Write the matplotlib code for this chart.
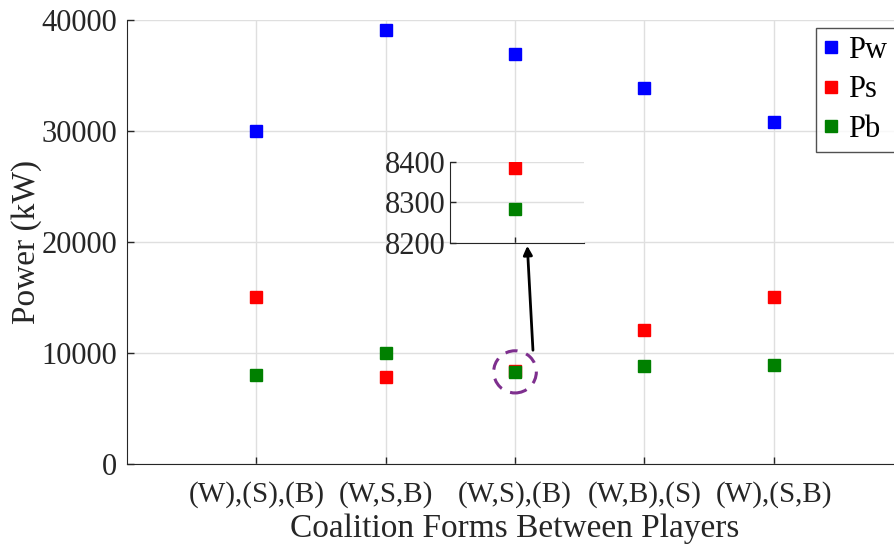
import matplotlib
matplotlib.use("Agg")
import matplotlib.pyplot as plt
from matplotlib.patches import Ellipse

plt.rcParams['font.family'] = ['Liberation Serif', 'DejaVu Serif']
plt.rcParams['mathtext.fontset'] = 'stix'

categories = ["(W),(S),(B)", "(W,S,B)", "(W,S),(B)", "(W,B),(S)", "(W),(S,B)"]
Pw = [30000, 39100, 36900, 33850, 30850]
Ps = [15050, 7850, 8385, 12050, 15050]
Pb = [8020, 10000, 8285, 8850, 8900]
yticks = [0, 10000, 20000, 30000, 40000]
inset_yticks = [8200, 8300, 8400]

x = list(range(1, len(categories) + 1))

fig = plt.figure(figsize=(8.94, 5.54), dpi=100)
W, H = 894, 554
left, right, top, bottom = 127, 903, 20, 464
ax = fig.add_axes([left / W, 1 - bottom / H, (right - left) / W, (bottom - top) / H])

fs = 22
ms = 8.5
ax.plot(x, Pw, 's', color='#0000ff', markersize=ms, label='Pw', zorder=3)
ax.plot(x, Ps, 's', color='#ff0000', markersize=ms, label='Ps', zorder=3)
ax.plot(x, Pb, 's', color='#008000', markersize=ms, label='Pb', zorder=3)

ax.set_xlim(0, 6)
ax.set_ylim(0, 40000)
ax.set_xticks(x)
ax.set_xticklabels(categories)
ax.set_yticks(yticks)
ax.tick_params(direction='in', labelsize=fs, length=5, width=1, colors='#262626')
ax.tick_params(axis='x', labelsize=21, pad=12)
ax.tick_params(axis='y', pad=7)
ax.grid(True, color='#dfdfdf', linewidth=1)
ax.set_axisbelow(True)
for s in ['top', 'right']:
    ax.spines[s].set_visible(False)
for s in ['left', 'bottom']:
    ax.spines[s].set_color('#262626')
ax.set_ylabel('Power (kW)', fontsize=24, color='#262626', labelpad=0)
ax.set_xlabel('Coalition Forms Between Players', fontsize=24, color='#262626', labelpad=4)

leg = ax.legend(loc='upper left', bbox_to_anchor=(816 / W, 1 - 28 / H),
                bbox_transform=fig.transFigure, fontsize=fs, frameon=True, fancybox=False,
                edgecolor='#262626', handlelength=0.5, handletextpad=0.3,
                borderpad=0.25, labelspacing=0.35, borderaxespad=0.0)
leg.get_frame().set_linewidth(1)

# zoom circle
ell = Ellipse((3.0, 8300), width=0.33, height=3800, fill=False,
              edgecolor='#7e2f8e', linewidth=2.2, linestyle=(0, (4, 3)), zorder=4)
ax.add_patch(ell)

# arrow
ax.annotate('', xy=(3.094, 19910), xytext=(3.14, 10000),
            arrowprops=dict(arrowstyle='-|>', color='black', lw=2, mutation_scale=13),
            zorder=5)

# inset
axin = ax.inset_axes([2.5, 19910, 1.03, 7300], transform=ax.transData)
axin.plot([3], [Ps[2]], 's', color='#ff0000', markersize=ms, zorder=3)
axin.plot([3], [Pb[2]], 's', color='#008000', markersize=ms, zorder=3)
axin.set_xlim(2.5, 3.53)
axin.set_ylim(8200, 8400)
axin.set_yticks(inset_yticks)
axin.set_xticks([3])
axin.set_xticklabels([])
axin.tick_params(direction='in', labelsize=fs, length=4, width=1, colors='#262626')
axin.grid(True, color='#dfdfdf', linewidth=1)
axin.set_axisbelow(True)
for s in ['top', 'right']:
    axin.spines[s].set_visible(False)
for s in ['left', 'bottom']:
    axin.spines[s].set_color('#262626')
axin.set_facecolor('white')

fig.savefig('out.png', dpi=100)
